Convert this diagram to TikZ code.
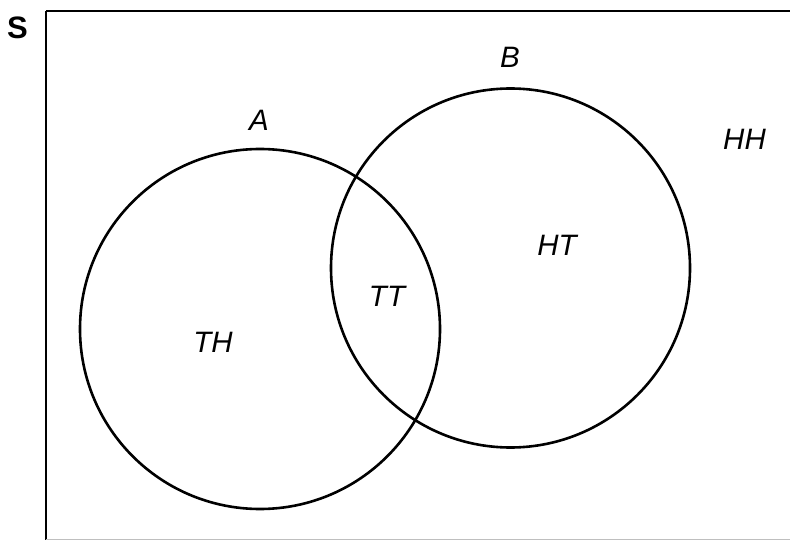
\documentclass[tikz,border=0pt]{standalone}
\usepackage{fontspec}
\setmainfont{Liberation Sans}
\begin{document}
\begin{tikzpicture}[x=1pt,y=-1pt,
  setline/.style={line width=2.6pt,black},
  lbl/.style={font=\fontsize{29.5}{32}\selectfont\itshape,inner sep=0pt,anchor=center}]
\useasboundingbox (0,0) rectangle (790,540);
\begin{scope}
\clip (0,0) rectangle (790,540);
\draw[setline] (46,11) -- (800,11);
\draw[setline] (46,11) -- (46,550);
\draw[line width=1pt,black!25] (46,539.5) -- (800,539.5);
\end{scope}
\node[inner sep=0pt,font=\fontsize{31}{34}\selectfont\bfseries] (S) at (17.5,27.5) {S};
\node[circle,draw,setline,minimum size=360pt,inner sep=0pt] (cA) at (260,329) {};
\node[circle,draw,setline,minimum size=359pt,inner sep=0pt] (cB) at (510.5,268) {};
\node[lbl] (A) at (259,120) {A};
\node[lbl] (B) at (510,57) {B};
\node[lbl] (HH) at (744.5,139) {HH};
\node[lbl] (HT) at (557,245) {HT};
\node[lbl] (TT) at (387,296) {TT};
\node[lbl] (TH) at (213,342) {TH};
\end{tikzpicture}
\end{document}
